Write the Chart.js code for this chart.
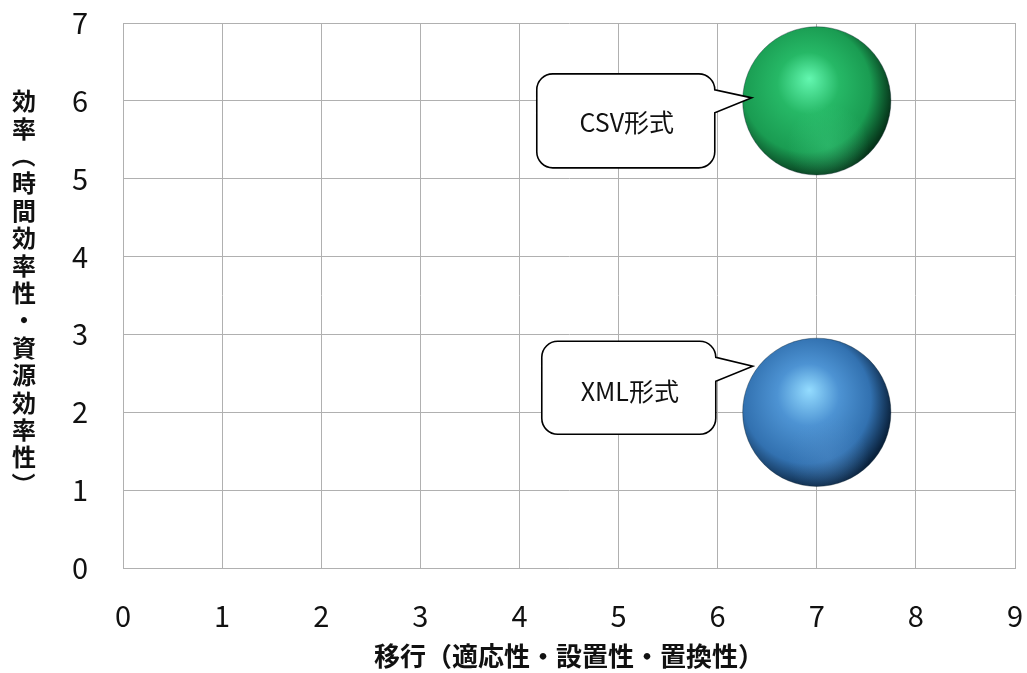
<!DOCTYPE html>
<html>
<head>
<meta charset="utf-8">
<script src="https://cdn.jsdelivr.net/npm/chart.js@4"></script>
<style>
  html, body { margin: 0; padding: 0; background: #ffffff; }
  #wrap { width: 1027px; height: 673px; }
</style>
</head>
<body>
<div id="wrap"><canvas id="c" width="1027" height="673"></canvas></div>
<script>
// ---- data ----
const seriesNames = ['CSV形式', 'XML形式'];
const migrationScores = [7, 7];      // x: 移行
const efficiencyScores = [6, 2];     // y: 効率
const bubbleSizes = [1, 1];          // relative bubble size
const xTickValues = [0, 1, 2, 3, 4, 5, 6, 7, 8, 9];
const yTickValues = [0, 1, 2, 3, 4, 5, 6, 7];
const xAxisTitle = '移行（適応性・設置性・置換性）';
const yAxisTitle = '効率（時間効率性・資源効率性）';

// ---- styling ----
const GRID = '#b0b0b0';
const TEXT = '#111111';
const JP = '"Noto Sans CJK JP", "Noto Sans", sans-serif';
const sphereColors = [
  { hi: '#63f7b0', mid: '#26b866', base: '#1a9c52', dark: '#06351a', rim: 'rgba(70,220,140,0.55)' },
  { hi: '#94dcff', mid: '#4d93d3', base: '#3271b0', dark: '#0a223d', rim: 'rgba(90,150,210,0.55)' }
];
// callout geometry, relative to the bubble centre
const calloutLayout = [
  { left: -280, right: -102, top: -27, bottom: 67, a1: -11, a2: 12, tipX: -65, tipY: -3, tx: -190, ty: 22 },
  { left: -275, right: -101, top: -71, bottom: 22, a1: -55, a2: -31, tipX: -64, tipY: -46, tx: -187, ty: -21 }
];

function bubbleRadius(chart, i) {
  const area = chart.chartArea;
  const h = area ? area.bottom - area.top : 545;
  return bubbleSizes[i] * h * 0.136;
}

function sphereFill(ctx) {
  const chart = ctx.chart;
  const pal = sphereColors[ctx.datasetIndex];
  if (!chart.chartArea || !ctx.raw) return pal.base;
  const cx = chart.scales.x.getPixelForValue(ctx.raw.x);
  const cy = chart.scales.y.getPixelForValue(ctx.raw.y);
  const r = bubbleRadius(chart, ctx.datasetIndex);
  const g = chart.ctx.createRadialGradient(cx - 0.1 * r, cy - 0.3 * r, 0, cx - 0.14 * r, cy - 0.12 * r, r * 1.16);
  g.addColorStop(0, pal.hi);
  g.addColorStop(0.36, pal.mid);
  g.addColorStop(0.74, pal.base);
  g.addColorStop(1, pal.dark);
  return g;
}

// soft reflection along the lower part of each sphere
const sphereGloss = {
  id: 'sphereGloss',
  afterDatasetsDraw(chart) {
    const c = chart.ctx;
    chart.data.datasets.forEach((ds, i) => {
      const pal = sphereColors[i];
      chart.getDatasetMeta(i).data.forEach(el => {
        const r = el.options.radius;
        c.save();
        c.beginPath();
        c.arc(el.x, el.y, r, 0, Math.PI * 2);
        c.clip();
        const g = c.createRadialGradient(el.x + 0.15 * r, el.y + 0.6 * r, 0, el.x + 0.15 * r, el.y + 0.6 * r, 0.55 * r);
        g.addColorStop(0, pal.rim.replace('0.55', '0.35'));
        g.addColorStop(1, pal.rim.replace('0.55', '0'));
        c.fillStyle = g;
        c.fillRect(el.x - r, el.y - r, 2 * r, 2 * r);
        c.restore();
      });
    });
  }
};

function calloutPath(c, L, R, T, B, a1, a2, tx, ty, rad) {
  c.beginPath();
  c.moveTo(L + rad, T);
  c.lineTo(R - rad, T);
  c.arcTo(R, T, R, T + rad, rad);
  c.lineTo(R, a1);
  c.lineTo(tx, ty);
  c.lineTo(R, a2);
  c.lineTo(R, B - rad);
  c.arcTo(R, B, R - rad, B, rad);
  c.lineTo(L + rad, B);
  c.arcTo(L, B, L, B - rad, rad);
  c.lineTo(L, T + rad);
  c.arcTo(L, T, L + rad, T, rad);
  c.closePath();
}

const callouts = {
  id: 'callouts',
  afterDatasetsDraw(chart) {
    const c = chart.ctx;
    chart.data.datasets.forEach((ds, i) => {
      const el = chart.getDatasetMeta(i).data[0];
      const g = calloutLayout[i];
      const x = el.x, y = el.y;
      c.save();
      calloutPath(c, x + g.left, x + g.right, y + g.top, y + g.bottom,
                  y + g.a1, y + g.a2, x + g.tipX, y + g.tipY, 16);
      c.fillStyle = '#ffffff';
      c.fill();
      c.lineWidth = 1.6;
      c.strokeStyle = '#000000';
      c.lineJoin = 'miter';
      c.stroke();
      c.fillStyle = TEXT;
      c.font = '25px ' + JP;
      c.textAlign = 'center';
      c.textBaseline = 'middle';
      c.fillText(ds.label, x + g.tx, y + g.ty);
      c.restore();
    });
  }
};

// vertical (upright) Japanese title for the y axis
const verticalTitle = {
  id: 'verticalTitle',
  afterDraw(chart) {
    const c = chart.ctx;
    const chars = Array.from(yAxisTitle);
    const pitch = 27.4;
    const x0 = 24, y0 = 101;
    c.save();
    c.fillStyle = TEXT;
    c.font = 'bold 24px ' + JP;
    c.textAlign = 'center';
    c.textBaseline = 'middle';
    chars.forEach((ch, k) => {
      const y = y0 + k * pitch;
      if (ch === '（' || ch === '）') {
        c.save();
        c.translate(x0, y);
        c.rotate(Math.PI / 2);
        c.fillText(ch, 0, 0);
        c.restore();
      } else {
        c.fillText(ch, x0, y);
      }
    });
    c.restore();
  }
};

const datasets = seriesNames.map((name, i) => ({
  label: name,
  data: [{ x: migrationScores[i], y: efficiencyScores[i] }],
  radius: (ctx) => bubbleRadius(ctx.chart, ctx.datasetIndex),
  backgroundColor: sphereFill,
  borderColor: 'rgba(10,30,40,0.35)',
  borderWidth: 1
}));

new Chart(document.getElementById('c'), {
  type: 'bubble',
  data: { datasets },
  options: {
    responsive: false,
    devicePixelRatio: 1,
    animation: false,
    events: [],
    layout: { autoPadding: false, padding: { top: 23, right: 12, left: 0, bottom: 0 } },
    plugins: { legend: { display: false }, tooltip: { enabled: false } },
    scales: {
      x: {
        type: 'linear',
        min: 0, max: 9,
        afterBuildTicks: s => { s.ticks = xTickValues.map(v => ({ value: v })); },
        afterFit: s => { s.height = 105; s.paddingLeft = 0; s.paddingRight = 0; },
        grid: { color: GRID, lineWidth: 1, drawTicks: false },
        border: { color: GRID, width: 1 },
        ticks: { color: TEXT, font: { family: JP, size: 29 }, padding: 31, maxRotation: 0 },
        title: { display: true, text: xAxisTitle, color: TEXT,
                 font: { family: JP, size: 26, weight: 'bold' }, padding: { top: 0, bottom: 1 } }
      },
      y: {
        type: 'linear',
        min: 0, max: 7,
        afterBuildTicks: s => { s.ticks = yTickValues.map(v => ({ value: v })); },
        afterFit: s => { s.width = 123; s.paddingTop = 0; s.paddingBottom = 0; },
        grid: { color: GRID, lineWidth: 1, drawTicks: false },
        border: { color: GRID, width: 1 },
        ticks: { color: TEXT, font: { family: JP, size: 29 }, padding: 35 }
      }
    }
  },
  plugins: [sphereGloss, callouts, verticalTitle]
});
</script>
</body>
</html>
